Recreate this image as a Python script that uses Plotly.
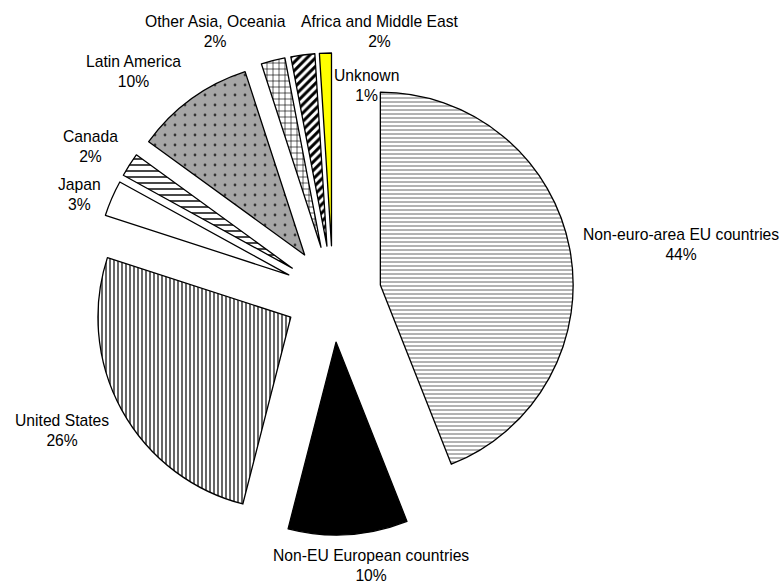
import plotly.graph_objects as go

# ---- data ----
labels = ["Non-euro-area EU countries", "Non-EU European countries", "United States",
          "Japan", "Canada", "Latin America", "Other Asia, Oceania",
          "Africa and Middle East", "Unknown"]
values = [44, 10, 26, 3, 2, 10, 2, 2, 1]

# ---- styling ----
fill_colors = ["#ffffff", "#000000", "#ffffff", "#ffffff", "#ffffff",
               "#a6a6a6", "#ffffff", "#ffffff", "#ffff00"]
pat_shapes = ["-", "", "|", "", "-", ".", "+", "/", ""]
pat_fg = ["#666666", "#000000", "#000000", "#000000", "#333333",
          "#333333", "#000000", "#000000", "#000000"]
pat_size = [4, 6, 4, 6, 6, 10, 6, 6, 6]
pat_solid = [0.25, 0.3, 0.3, 0.3, 0.3, 0.06, 0.2, 0.5, 0.3]

W, H = 782, 583

fig = go.Figure(go.Pie(
    labels=labels, values=values, sort=False, direction="clockwise",
    rotation=0, pull=0.25, textinfo="none", hoverinfo="label+percent",
    showlegend=False,
    marker=dict(colors=fill_colors,
                line=dict(color="#000000", width=1.3),
                pattern=dict(shape=pat_shapes, fgcolor=pat_fg, bgcolor=fill_colors,
                             size=pat_size, solidity=pat_solid)),
    domain=dict(x=[92 / W, 574 / W], y=[48 / H, 530 / H]),
))

# label anchor centres (pixels)
label_pos = {
    "Non-euro-area EU countries": (681, 244.5),
    "Non-EU European countries": (371, 565),
    "United States": (62, 430.5),
    "Japan": (79, 195),
    "Canada": (90, 146.5),
    "Latin America": (133, 71),
    "Other Asia, Oceania": (216, 31.5),
    "Africa and Middle East": (380, 31.5),
    "Unknown": (366, 85.5),
}
total = sum(values)
for lab, v in zip(labels, values):
    px, py = label_pos[lab]
    fig.add_annotation(x=px / W, y=1 - py / H, xref="paper", yref="paper",
                       text=f"{lab}<br>{round(100 * v / total)}%",
                       showarrow=False, xanchor="center", yanchor="middle",
                       align="center",
                       font=dict(family="Liberation Sans, Arial", size=15.7,
                                 color="#000000"))

fig.update_layout(width=W, height=H, margin=dict(l=0, r=0, t=0, b=0),
                  paper_bgcolor="#ffffff", plot_bgcolor="#ffffff")

fig.write_html("out.html")
